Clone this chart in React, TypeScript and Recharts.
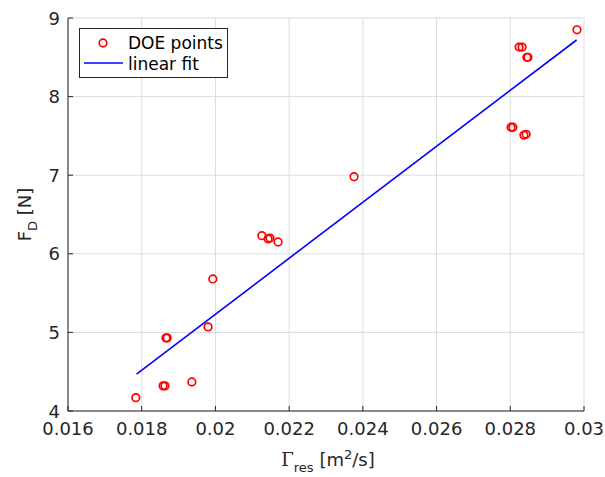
import React from 'react';
import { ScatterChart, Scatter, XAxis, YAxis, CartesianGrid, Legend } from 'recharts';

// DOE sample points
const doeX = [
  0.01784, 0.01858, 0.01863, 0.01866, 0.01869, 0.01936, 0.0198, 0.01993,
  0.02126, 0.02143, 0.02148, 0.0217, 0.02376,
  0.02802, 0.02807, 0.02824, 0.02832, 0.02837, 0.02843, 0.02845, 0.02848, 0.02981,
];
const doeY = [
  4.17, 4.32, 4.32, 4.93, 4.93, 4.37, 5.07, 5.68,
  6.23, 6.19, 6.2, 6.15, 6.98,
  7.61, 7.61, 8.63, 8.63, 7.51, 7.52, 8.5, 8.5, 8.85,
];

// linear fit endpoints
const fitX = [0.01786, 0.0298];
const fitY = [4.47, 8.72];

const xTicks = [0.016, 0.018, 0.02, 0.022, 0.024, 0.026, 0.028, 0.03];
const xTickLabels = ['0.016', '0.018', '0.02', '0.022', '0.024', '0.026', '0.028', '0.03'];
const yTicks = [4, 5, 6, 7, 8, 9];
const yTickLabels = ['4', '5', '6', '7', '8', '9'];

const legendLabels = ['DOE points', 'linear fit'];

const doeData = doeX.map((x, i) => ({ x, y: doeY[i] }));
const fitData = fitX.map((x, i) => ({ x, y: fitY[i] }));

const AX = '#262626';
const FONT = '"DejaVu Sans", sans-serif';
const TL = 5;

const labelFor = (ticks: number[], labels: string[], v: number) => {
  const i = ticks.findIndex((t) => Math.abs(t - v) < 1e-9);
  return i >= 0 ? labels[i] : String(v);
};

const BottomTick = (p: any) => (
  <g>
    <line x1={p.x} x2={p.x} y1={p.y} y2={p.y - TL} stroke={AX} strokeWidth={1} />
    <text x={p.x} y={p.y + 24} textAnchor="middle" fontSize={18} fill={AX} fontFamily={FONT}>
      {labelFor(xTicks, xTickLabels, p.payload.value)}
    </text>
  </g>
);

const TopTick = (p: any) => (
  <line x1={p.x} x2={p.x} y1={p.y} y2={p.y + TL} stroke={AX} strokeWidth={1} />
);

const LeftTick = (p: any) => (
  <g>
    <line x1={p.x} x2={p.x + TL} y1={p.y} y2={p.y} stroke={AX} strokeWidth={1} />
    <text x={p.x - 8} y={p.y + 6.5} textAnchor="end" fontSize={18} fill={AX} fontFamily={FONT}>
      {labelFor(yTicks, yTickLabels, p.payload.value)}
    </text>
  </g>
);

const RightTick = (p: any) => (
  <line x1={p.x} x2={p.x - TL} y1={p.y} y2={p.y} stroke={AX} strokeWidth={1} />
);

const Ring = (p: any) => (
  <circle cx={p.cx} cy={p.cy} r={3.8} fill="none" stroke="#ff0000" strokeWidth={1.7} />
);

const NoShape = () => <g />;

const XLabel = (p: any) => {
  const vb = p.viewBox || { x: 68, y: 411, width: 516, height: 66 };
  return (
    <text x={vb.x + vb.width / 2 + 2} y={vb.y + 55} textAnchor="middle" fontSize={18} fill={AX} fontFamily={FONT}>
      <tspan fontFamily='"DejaVu Serif", serif'>Γ</tspan>
      <tspan fontSize={13} dy={6}>res</tspan>
      <tspan dy={-6}> [m</tspan>
      <tspan fontSize={13} dy={-7}>2</tspan>
      <tspan dy={7}>/s]</tspan>
    </text>
  );
};

const YLabel = (p: any) => {
  const vb = p.viewBox || { x: 0, y: 18, width: 68, height: 393 };
  const cx = 31;
  const cy = vb.y + vb.height / 2;
  return (
    <text x={cx} y={cy} transform={`rotate(-90 ${cx} ${cy})`} textAnchor="middle" fontSize={18} fill={AX} fontFamily={FONT}>
      <tspan>F</tspan>
      <tspan fontSize={13} dy={6}>D</tspan>
      <tspan dy={-6}> [N]</tspan>
    </text>
  );
};

const LegendBox = () => (
  <svg width={149} height={50} style={{ display: 'block' }}>
    <rect x={0.5} y={0.5} width={148} height={49} fill="#ffffff" stroke={AX} strokeWidth={1} />
    <circle cx={24} cy={15} r={3.8} fill="none" stroke="#ff0000" strokeWidth={1.7} />
    <text x={49} y={21} fontSize={17} fill="#000" fontFamily={FONT}>{legendLabels[0]}</text>
    <line x1={5} x2={44} y1={35} y2={35} stroke="#0000ff" strokeWidth={1.6} />
    <text x={49} y={42} fontSize={17} fill="#000" fontFamily={FONT}>{legendLabels[1]}</text>
  </svg>
);

export default function App() {
  return (
    <div style={{ position: 'absolute', left: 0, top: 0, width: 605, height: 477, background: '#fff' }}>
      <ScatterChart width={605} height={477} margin={{ top: 18, right: 21, left: 0, bottom: 0 }}>
        <CartesianGrid stroke="#dcdcdc" strokeWidth={1} />
        <XAxis
          dataKey="x"
          type="number"
          domain={[0.016, 0.03]}
          ticks={xTicks}
          allowDataOverflow
          height={66}
          tickSize={0}
          tickMargin={0}
          tickLine={false}
          axisLine={{ stroke: AX, strokeWidth: 1 }}
          tick={<BottomTick />}
          interval={0}
          label={{ content: <XLabel /> } as any}
        />
        <XAxis
          xAxisId="top"
          orientation="top"
          dataKey="x"
          type="number"
          domain={[0.016, 0.03]}
          ticks={xTicks}
          allowDataOverflow
          height={0}
          tickSize={0}
          tickMargin={0}
          tickLine={false}
          axisLine={{ stroke: AX, strokeWidth: 1 }}
          tick={<TopTick />}
          interval={0}
        />
        <YAxis
          dataKey="y"
          type="number"
          domain={[4, 9]}
          ticks={yTicks}
          allowDataOverflow
          width={68}
          tickSize={0}
          tickMargin={0}
          tickLine={false}
          axisLine={{ stroke: AX, strokeWidth: 1 }}
          tick={<LeftTick />}
          interval={0}
          label={{ content: <YLabel /> } as any}
        />
        <YAxis
          yAxisId="right"
          orientation="right"
          dataKey="y"
          type="number"
          domain={[4, 9]}
          ticks={yTicks}
          allowDataOverflow
          width={0}
          tickSize={0}
          tickMargin={0}
          tickLine={false}
          axisLine={{ stroke: AX, strokeWidth: 1 }}
          tick={<RightTick />}
          interval={0}
        />
        <Scatter
          name="linear fit"
          data={fitData}
          line={{ stroke: '#0000ff', strokeWidth: 1.6 }}
          shape={<NoShape />}
          isAnimationActive={false}
        />
        <Scatter name="DOE points" data={doeData} shape={<Ring />} isAnimationActive={false} />
        <Legend
          layout="vertical"
          align="center"
          verticalAlign="middle"
          content={<LegendBox />}
          wrapperStyle={{ position: 'absolute', left: 79, top: 28, width: 149, height: 50 }}
        />
      </ScatterChart>
    </div>
  );
}
